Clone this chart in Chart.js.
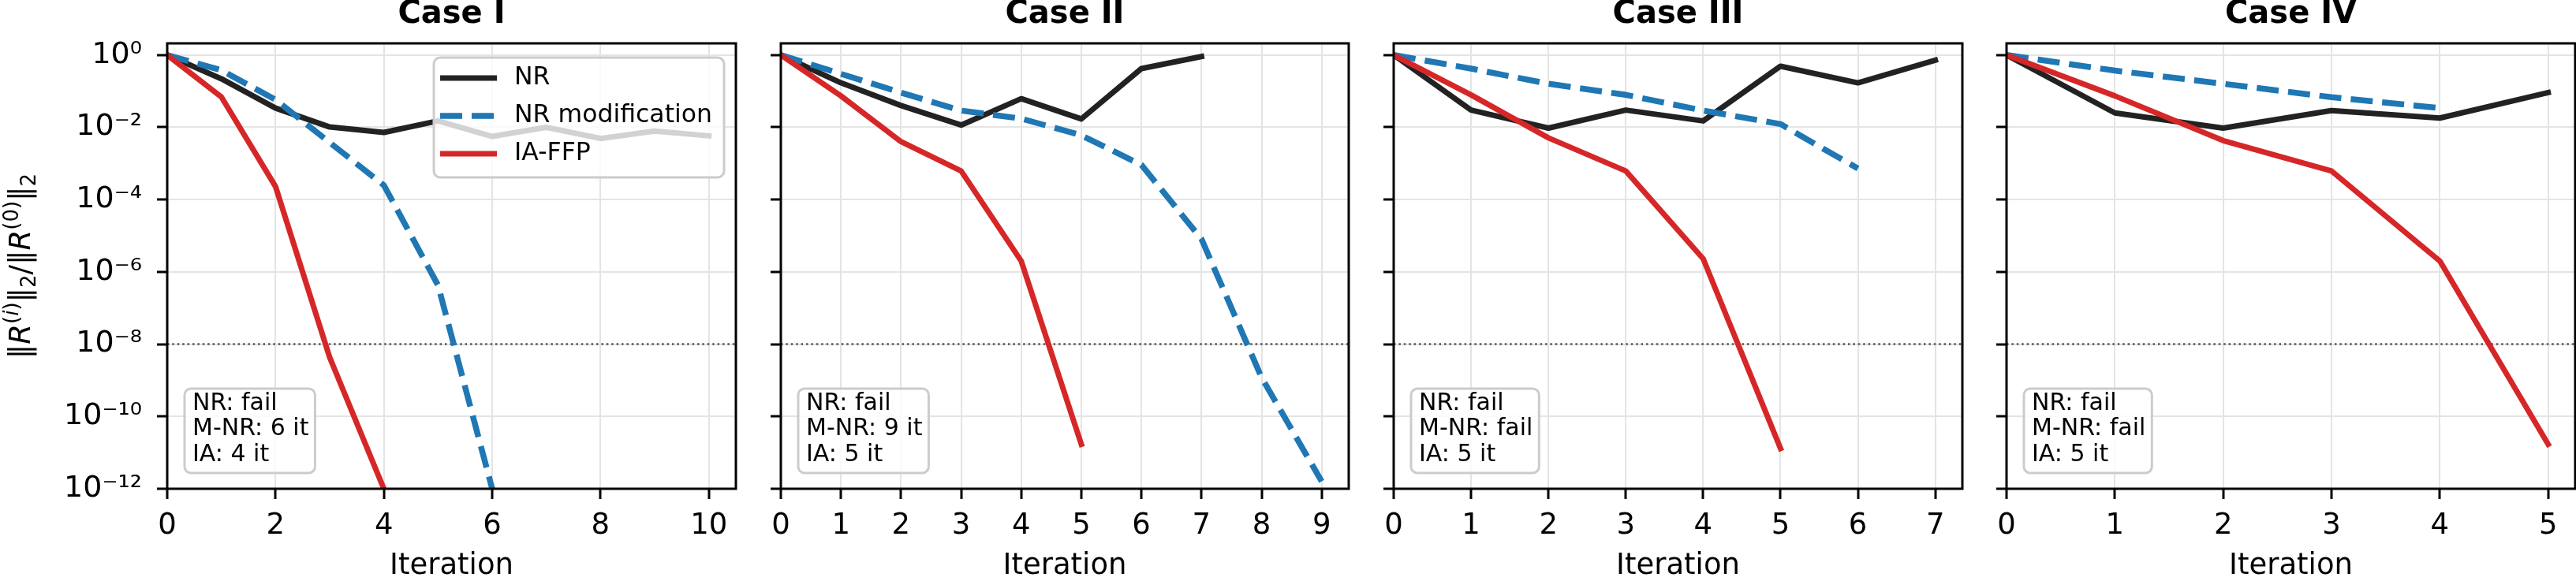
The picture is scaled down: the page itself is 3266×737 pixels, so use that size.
<!DOCTYPE html>
<html>
<head>
<meta charset="utf-8">
<script src="https://cdn.jsdelivr.net/npm/chart.js@4.4.0/dist/chart.umd.min.js"></script>
<style>
  html, body { margin: 0; padding: 0; background: #fff; }
  #wrap { position: relative; width: 3266px; height: 737px; }
  #wrap canvas { position: absolute; left: 0; top: 0; }
</style>
</head>
<body>
<div id="wrap">
  <canvas id="case1" width="3266" height="737"></canvas>
  <canvas id="case2" width="3266" height="737"></canvas>
  <canvas id="case3" width="3266" height="737"></canvas>
  <canvas id="case4" width="3266" height="737"></canvas>
</div>
<script>
// residual norms per iteration
const case1NR  = [1, 0.22, 0.034, 0.0102, 0.0072, 0.015, 0.0056, 0.01, 0.0049, 0.0079, 0.0058];
const case1MNR = [1, 0.38, 0.058, 0.0038, 2.5e-4, 4.3e-7, 1e-12];
const case1IA  = [1, 0.069, 2.3e-4, 4.3e-9, 1e-12];

const case2NR  = [1, 0.17, 0.04, 0.0115, 0.062, 0.017, 0.42, 0.91];
const case2MNR = [1, 0.3, 0.091, 0.029, 0.0174, 0.006, 9.1e-4, 8.1e-6, 1.2e-9, 1.6e-12];
const case2IA  = [1, 0.074, 0.004, 6.2e-4, 2e-6, 1.7e-11];

const case3NR  = [1, 0.03, 0.0095, 0.03, 0.015, 0.49, 0.17, 0.72];
const case3MNR = [1, 0.42, 0.16, 0.079, 0.029, 0.0123, 7.2e-4];
const case3IA  = [1, 0.079, 0.0051, 6.2e-4, 2.3e-6, 1.3e-11];

const case4NR  = [1, 0.025, 0.0095, 0.029, 0.018, 0.091];
const case4MNR = [1, 0.37, 0.16, 0.068, 0.034];
const case4IA  = [1, 0.074, 0.0043, 6.2e-4, 2e-6, 1.7e-11];

const seriesNames = ['NR', 'NR modification', 'IA-FFP'];
const caseTitles = ['Case I', 'Case II', 'Case III', 'Case IV'];
const xMaxes = [10.5, 9.45, 7.35, 5.25];
const xTicks1 = [0, 2, 4, 6, 8, 10];
const xTicks2 = [0, 1, 2, 3, 4, 5, 6, 7, 8, 9];
const xTicks3 = [0, 1, 2, 3, 4, 5, 6, 7];
const xTicks4 = [0, 1, 2, 3, 4, 5];
const yTicks = [1e0, 1e-2, 1e-4, 1e-6, 1e-8, 1e-10, 1e-12];
const yMin = 1e-12, yMax = 2.1;
const tolerance = 1e-8;
const notes1 = ['NR: fail', 'M-NR: 6 it', 'IA: 4 it'];
const notes2 = ['NR: fail', 'M-NR: 9 it', 'IA: 5 it'];
const notes3 = ['NR: fail', 'M-NR: fail', 'IA: 5 it'];
const notes4 = ['NR: fail', 'M-NR: fail', 'IA: 5 it'];

const FONT = '"DejaVu Sans", sans-serif';
const W = 3266;
const panelLeft = [212, 990, 1767, 2544];
const panelRight = [933, 1710, 2488, 3265];

const sup = {'-': '⁻', '0': '⁰', '1': '¹', '2': '²', '3': '³', '4': '⁴',
             '5': '⁵', '6': '⁶', '7': '⁷', '8': '⁸', '9': '⁹'};
function powLabel(v) {
  const e = String(Math.round(Math.log10(v)));
  return '10' + e.split('').map(c => sup[c]).join('');
}

function roundBox(ctx, x, y, w, h, r) {
  ctx.beginPath();
  ctx.moveTo(x + r, y);
  ctx.arcTo(x + w, y, x + w, y + h, r);
  ctx.arcTo(x + w, y + h, x, y + h, r);
  ctx.arcTo(x, y + h, x, y, r);
  ctx.arcTo(x, y, x + w, y, r);
  ctx.closePath();
  ctx.fillStyle = 'rgba(255,255,255,0.8)';
  ctx.fill();
  ctx.strokeStyle = '#cccccc';
  ctx.lineWidth = 3;
  ctx.stroke();
}

function drawNote(ctx, a, lines) {
  ctx.save();
  ctx.font = '30px ' + FONT;
  const w = Math.max(...lines.map(t => ctx.measureText(t).width)) + 18;
  const h = 107;
  const x = a.left + 22, y = a.bottom - 20 - h;
  roundBox(ctx, x, y, w, h, 8);
  ctx.fillStyle = '#000';
  ctx.textBaseline = 'middle';
  lines.forEach((t, i) => ctx.fillText(t, x + 10, y + 19 + i * 32.5));
  ctx.restore();
}

function drawLegend(ctx, a, datasets) {
  ctx.save();
  ctx.font = '31.5px ' + FONT;
  const tw = Math.max(...datasets.map(d => ctx.measureText(d.label).width));
  const w = 8 + 72 + 22 + tw + 15, h = 152;
  const x = a.right - 15 - w, y = a.top + 18;
  roundBox(ctx, x, y, w, h, 8);
  datasets.forEach((d, i) => {
    const cy = y + 26 + i * 48;
    ctx.strokeStyle = d.borderColor;
    ctx.lineWidth = d.borderWidth;
    ctx.setLineDash(d.borderDash || []);
    ctx.lineCap = 'butt';
    ctx.beginPath(); ctx.moveTo(x + 8, cy); ctx.lineTo(x + 80, cy); ctx.stroke();
    ctx.setLineDash([]);
    ctx.fillStyle = '#000';
    ctx.textBaseline = 'middle';
    ctx.fillText(d.label, x + 102, cy);
  });
  ctx.restore();
}

// ||R^(i)||_2 / ||R^(0)||_2 with italic R and small scripts
function drawYLabel(ctx, bx, cy) {
  const big = '37px ' + FONT, bigI = 'italic 37px ' + FONT;
  const sm = '26px ' + FONT, smI = 'italic 26px ' + FONT;
  const parts = [
    ['‖', big, 0], ['R', bigI, 0], ['(', sm, 15], ['i', smI, 15], [')', sm, 15],
    ['‖', big, 0], ['2', sm, -7], ['/', big, 0],
    ['‖', big, 0], ['R', bigI, 0], ['(0)', sm, 15], ['‖', big, 0], ['2', sm, -7]
  ];
  ctx.save();
  let total = 0;
  parts.forEach(p => { ctx.font = p[1]; total += ctx.measureText(p[0]).width; });
  ctx.translate(bx, cy);
  ctx.rotate(-Math.PI / 2);
  ctx.fillStyle = '#000';
  ctx.textBaseline = 'alphabetic';
  let px = -total / 2;
  parts.forEach(p => {
    ctx.font = p[1];
    ctx.fillText(p[0], px, -p[2]);
    px += ctx.measureText(p[0]).width;
  });
  ctx.restore();
}

function makeCase(id, idx, nr, mnr, ia, xTicks, notes) {
  const first = idx === 0;
  const yW = first ? 212 : 40;
  const datasets = [
    { label: seriesNames[0], data: nr.map((v, i) => ({x: i, y: v})),
      borderColor: '#222222', borderWidth: 7, borderCapStyle: 'square', order: 3 },
    { label: seriesNames[1], data: mnr.map((v, i) => ({x: i, y: v})),
      borderColor: '#1f77b4', borderWidth: 7.5, borderDash: [28, 12], borderCapStyle: 'butt', order: 2 },
    { label: seriesNames[2], data: ia.map((v, i) => ({x: i, y: v})),
      borderColor: '#d62728', borderWidth: 7, borderCapStyle: 'square', order: 1 }
  ];
  datasets.forEach(d => { d.pointRadius = 0; d.tension = 0; d.fill = false; d.borderJoinStyle = 'round'; });

  const overlay = {
    id: 'overlay' + idx,
    beforeDatasetsDraw(chart) {
      const {ctx, chartArea: a, scales: {y}} = chart;
      const py = y.getPixelForValue(tolerance);
      ctx.save();
      ctx.strokeStyle = '#555555';
      ctx.lineWidth = 2.5;
      ctx.setLineDash([2.5, 3.9]);
      ctx.beginPath(); ctx.moveTo(a.left, py); ctx.lineTo(a.right, py); ctx.stroke();
      ctx.restore();
    },
    afterDatasetsDraw(chart) {
      const {ctx, chartArea: a} = chart;
      ctx.save();
      ctx.strokeStyle = '#000';
      ctx.lineWidth = 3;
      ctx.strokeRect(a.left, a.top, a.right - a.left, a.bottom - a.top);
      ctx.restore();
      drawNote(ctx, a, notes);
      if (first) {
        drawLegend(ctx, a, datasets);
        drawYLabel(ctx, 38, (a.top + a.bottom) / 2);
      }
    }
  };

  return new Chart(document.getElementById(id), {
    type: 'line',
    data: { datasets },
    plugins: [overlay],
    options: {
      responsive: false,
      devicePixelRatio: 1,
      animation: false,
      layout: { padding: { left: panelLeft[idx] - yW, right: W - panelRight[idx], top: 0, bottom: 0 } },
      plugins: {
        legend: { display: false },
        tooltip: { enabled: false },
        title: {
          display: true, text: caseTitles[idx], fullSize: false, color: '#000',
          font: { family: FONT, size: 40, weight: 'bold', lineHeight: 0.95 },
          padding: { top: 0, bottom: 17 }
        }
      },
      scales: {
        x: {
          type: 'linear', min: 0, max: xMaxes[idx],
          afterBuildTicks: s => { s.ticks = xTicks.map(v => ({value: v})); },
          afterFit: s => { s.height = 117; },
          border: { display: false },
          grid: { color: '#e4e4e4', lineWidth: 2, tickColor: '#000', tickWidth: 3, tickLength: 13 },
          ticks: { color: '#000', font: { family: FONT, size: 37 }, padding: 12, maxRotation: 0, autoSkip: false, includeBounds: false },
          title: { display: true, text: 'Iteration', color: '#000', font: { family: FONT, size: 37, lineHeight: 1.0 }, padding: 0 }
        },
        y: {
          type: 'logarithmic', min: yMin, max: yMax,
          afterBuildTicks: s => { s.ticks = yTicks.map(v => ({value: v})); },
          afterFit: s => { s.width = yW; },
          border: { display: false },
          grid: { color: '#e4e4e4', lineWidth: 2, tickColor: '#000', tickWidth: 3, tickLength: 13 },
          ticks: { display: first, color: '#000', font: { family: FONT, size: 38 }, padding: 19, callback: v => powLabel(v) }
        }
      }
    }
  });
}

makeCase('case1', 0, case1NR, case1MNR, case1IA, xTicks1, notes1);
makeCase('case2', 1, case2NR, case2MNR, case2IA, xTicks2, notes2);
makeCase('case3', 2, case3NR, case3MNR, case3IA, xTicks3, notes3);
makeCase('case4', 3, case4NR, case4MNR, case4IA, xTicks4, notes4);
</script>
</body>
</html>
